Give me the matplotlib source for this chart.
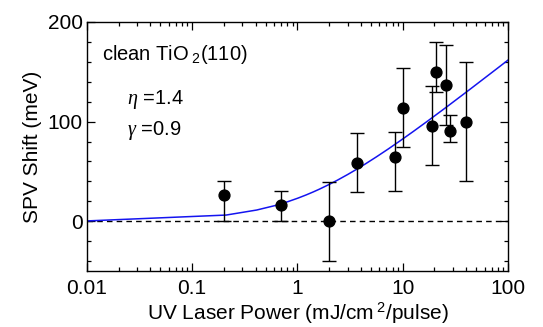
import numpy as np
import matplotlib
matplotlib.use("Agg")
import matplotlib.pyplot as plt
from matplotlib.ticker import LogLocator, MultipleLocator, FixedLocator, FixedFormatter, NullFormatter

plt.rcParams['font.family'] = ['Liberation Sans', 'DejaVu Sans']
plt.rcParams['mathtext.fontset'] = 'custom'
plt.rcParams['mathtext.rm'] = 'Liberation Sans'
plt.rcParams['mathtext.it'] = 'Liberation Serif:italic'

# Measured SPV shift vs. laser fluence
power = [0.2, 0.7, 2.0, 3.65, 8.5, 10.0, 18.8, 20.7, 25.6, 28.1, 39.6]
shift = [26, 16, 0, 58, 64, 114, 96, 150, 137, 91, 100]
err_low = [26, 16, 40, 29, 34, 40, 40, 20, 40, 11, 60]
err_high = [14, 14, 39, 31, 26, 40, 40, 30, 40, 16, 60]

# Fit parameters
eta = 1.4
gamma = 0.9
kT = 25.6  # meV

x_ticks = [0.01, 0.1, 1, 10, 100]
x_labels = ["0.01", "0.1", "1", "10", "100"]
y_ticks = [0, 100, 200]

fig = plt.figure(figsize=(5.43, 3.27), dpi=100)
ax = fig.add_axes([0.160, 0.171, 0.7755, 0.762])

ax.axhline(0, color='black', lw=1.0, ls=(0, (4, 3)), zorder=1)

p_fit = np.linspace(0.01, 100, 501)
spv_fit = eta * kT * np.log(1 + gamma * p_fit)
ax.plot(p_fit, spv_fit, color='#1414f0', lw=1.1, zorder=2)

ax.errorbar(power, shift, yerr=[err_low, err_high], fmt='o', color='black',
            ms=7.8, elinewidth=1.0, capsize=5, capthick=1.0, zorder=3)

ax.set_xscale('log')
ax.set_xlim(0.01, 100)
ax.set_ylim(-50, 200)

ax.xaxis.set_major_locator(FixedLocator(x_ticks))
ax.xaxis.set_major_formatter(FixedFormatter(x_labels))
ax.xaxis.set_minor_locator(LogLocator(base=10, subs=np.arange(2, 10), numticks=20))
ax.xaxis.set_minor_formatter(NullFormatter())
ax.yaxis.set_major_locator(FixedLocator(y_ticks))
ax.yaxis.set_minor_locator(MultipleLocator(20))

ax.tick_params(which='both', direction='in', top=True, right=True, labelsize=15, width=0.9)
ax.tick_params(axis='x', pad=6)
ax.tick_params(axis='y', pad=3)
ax.tick_params(which='major', length=6)
ax.tick_params(which='minor', length=3)
for s in ax.spines.values():
    s.set_linewidth(1.0)

ax.set_xlabel("UV Laser Power (mJ/cm$^{\\ 2}$/pulse)", fontsize=15, labelpad=2)
ax.set_ylabel("SPV Shift (meV)", fontsize=15, labelpad=4)

ax.text(0.036, 0.848, "clean TiO$_{\\ 2}$(110)", transform=ax.transAxes, fontsize=14.5)
ax.text(0.095, 0.67, "$\\it{\\eta}$ =1.4", transform=ax.transAxes, fontsize=14.5)
ax.text(0.095, 0.545, "$\\it{\\gamma}$ =0.9", transform=ax.transAxes, fontsize=14.5)

fig.savefig("out.png", dpi=100)
